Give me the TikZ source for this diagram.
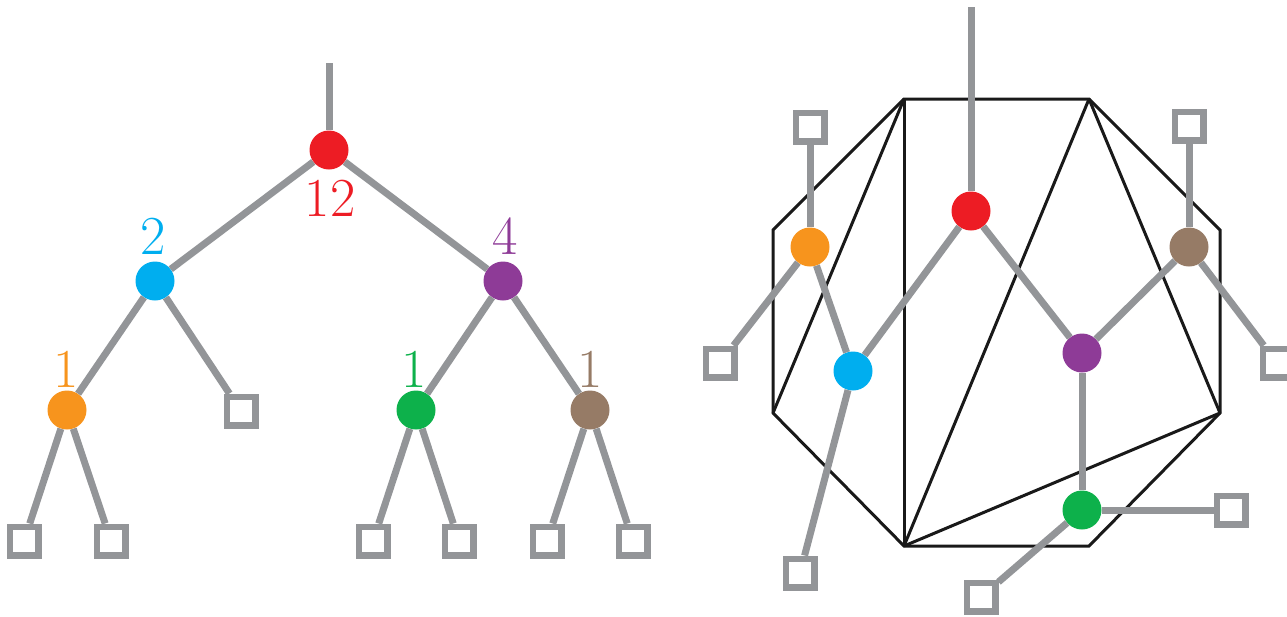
\documentclass[tikz,border=0pt]{standalone}
\definecolor{cred}{HTML}{ED1C24}
\definecolor{cblue}{HTML}{00AEEF}
\definecolor{cpurple}{HTML}{8E3B97}
\definecolor{corange}{HTML}{F7941D}
\definecolor{cgreen}{HTML}{0DB14B}
\definecolor{cbrown}{HTML}{967B66}
\definecolor{cgray}{HTML}{939598}
\tikzset{
  dot/.style={circle,inner sep=0pt,minimum size=39pt,fill=#1},
  leaf/.style={rectangle,draw=cgray,line width=6.5pt,fill=white,inner sep=0pt,minimum size=28.5pt},
  edge/.style={draw=cgray,line width=7pt},
  poly/.style={draw=black!90,line width=3pt,line join=miter},
  lab/.style={inner sep=0pt,text=#1,font=\fontsize{55}{60}\selectfont}
}
\begin{document}
\begin{tikzpicture}[x=1pt,y=-1pt]
\useasboundingbox (0,0) rectangle (1287,616);
% ---------- left tree ----------
\coordinate (Ltop) at (329,63);
\node[dot=cred] (Lr) at (329,150) {};
\node[dot=cblue] (Lb) at (155,281) {};
\node[dot=cpurple] (Lp) at (503,281) {};
\node[dot=corange] (Lo) at (67,410) {};
\node[dot=cgreen] (Lg) at (416,410) {};
\node[dot=cbrown] (Lw) at (590,410) {};
\node[leaf] (Ls1) at (241,411) {};
\node[leaf] (Ls2) at (24,541) {};
\node[leaf] (Ls3) at (111,541) {};
\node[leaf] (Ls4) at (373,541) {};
\node[leaf] (Ls5) at (459,541) {};
\node[leaf] (Ls6) at (547,541) {};
\node[leaf] (Ls7) at (633,541) {};
\draw[edge] (Ltop) -- (Lr);
\draw[edge] (Lr) -- (Lb);
\draw[edge] (Lr) -- (Lp);
\draw[edge] (Lb) -- (Lo);
\draw[edge] (Lb) -- (Ls1);
\draw[edge] (Lo) -- (Ls2);
\draw[edge] (Lo) -- (Ls3);
\draw[edge] (Lp) -- (Lg);
\draw[edge] (Lp) -- (Lw);
\draw[edge] (Lg) -- (Ls4);
\draw[edge] (Lg) -- (Ls5);
\draw[edge] (Lw) -- (Ls6);
\draw[edge] (Lw) -- (Ls7);
\node[lab=cred] (t12) at (330,198) {12};
\node[lab=cblue] (t2) at (153,236) {2};
\node[lab=cpurple] (t4) at (505,236) {4};
\node[lab=corange] (t1a) at (66,369) {1};
\node[lab=cgreen] (t1b) at (414,369) {1};
\node[lab=cbrown] (t1c) at (590,369) {1};
% ---------- right: polygon ----------
\coordinate (A) at (904,99);
\coordinate (B) at (1089,99);
\coordinate (C) at (1220,230);
\coordinate (D) at (1220,413);
\coordinate (E) at (1089,546);
\coordinate (F) at (904,546);
\coordinate (G) at (773,413);
\coordinate (H) at (773,230);
\draw[poly] (A) -- (B) -- (C) -- (D) -- (E) -- (F) -- (G) -- (H) -- cycle;
\draw[poly] (A) -- (F);
\draw[poly] (A) -- (G);
\draw[poly] (B) -- (F);
\draw[poly] (B) -- (D);
\draw[poly] (D) -- (F);
% ---------- right tree ----------
\coordinate (Rtop) at (971,7);
\node[dot=cred] (Rr) at (971,211) {};
\node[dot=corange] (Ro) at (810,247) {};
\node[dot=cblue] (Rb) at (853,371) {};
\node[dot=cpurple] (Rp) at (1082,353) {};
\node[dot=cbrown] (Rw) at (1189,247) {};
\node[dot=cgreen] (Rg) at (1082,510) {};
\node[leaf] (Rs1) at (810,127) {};
\node[leaf] (Rs2) at (720,363) {};
\node[leaf] (Rs3) at (800,573) {};
\node[leaf] (Rs4) at (1189,126) {};
\node[leaf] (Rs5) at (1277,363) {};
\node[leaf] (Rs6) at (1231,510) {};
\node[leaf] (Rs7) at (981,597) {};
\draw[edge] (Rtop) -- (Rr);
\draw[edge] (Rr) -- (Rb);
\draw[edge] (Rr) -- (Rp);
\draw[edge] (Rb) -- (Ro);
\draw[edge] (Rb) -- (Rs3);
\draw[edge] (Ro) -- (Rs1);
\draw[edge] (Ro) -- (Rs2);
\draw[edge] (Rp) -- (Rw);
\draw[edge] (Rp) -- (Rg);
\draw[edge] (Rw) -- (Rs4);
\draw[edge] (Rw) -- (Rs5);
\draw[edge] (Rg) -- (Rs6);
\draw[edge] (Rg) -- (Rs7);
\end{tikzpicture}
\end{document}
